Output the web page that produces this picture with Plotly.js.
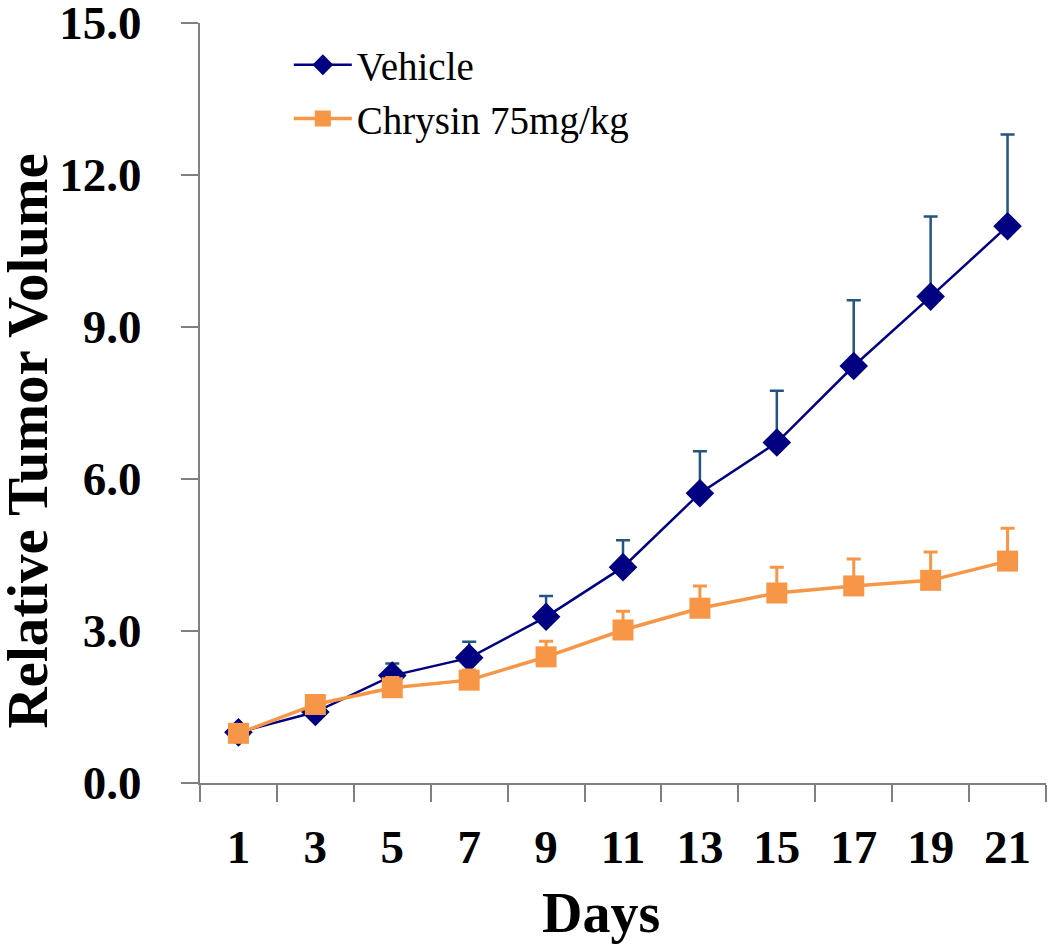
<!DOCTYPE html>
<html>
<head>
<meta charset="utf-8">
<script src="https://cdn.plot.ly/plotly-3.0.1.min.js"></script>
<style>html,body{margin:0;padding:0;background:#fff;}#chart{width:1050px;height:946px;}</style>
</head>
<body>
<div id="chart"></div>
<script>
const days = ['1','3','5','7','9','11','13','15','17','19','21'];
const vehicle = [1.00, 1.40, 2.12, 2.47, 3.28, 4.26, 5.72, 6.72, 8.23, 9.60, 10.99];
const vehicleErr = [0.15, 0.10, 0.24, 0.32, 0.41, 0.53, 0.83, 1.02, 1.30, 1.58, 1.81];
const chrysin = [0.98, 1.55, 1.88, 2.03, 2.49, 3.02, 3.45, 3.75, 3.89, 4.00, 4.38];
const chrysinErr = [0.10, 0.15, 0.20, 0.20, 0.31, 0.37, 0.44, 0.51, 0.53, 0.56, 0.65];
const yTicks = [0, 3, 6, 9, 12, 15];

const serif = 'Liberation Serif, Times New Roman, serif';
const zeros = days.map(() => 0);

const traces = [
  {
    x: days, y: vehicle, name: 'Vehicle', type: 'scatter', mode: 'lines+markers',
    line: {color: '#000080', width: 2.5},
    marker: {symbol: 'diamond', size: 22, color: '#000080'},
    error_y: {type: 'data', symmetric: false, array: vehicleErr, arrayminus: zeros,
      color: '#24557f', thickness: 2.5, width: 7}
  },
  {
    x: days, y: chrysin, name: 'Chrysin 75mg/kg', type: 'scatter', mode: 'lines+markers',
    line: {color: '#F79646', width: 3.5},
    marker: {symbol: 'square', size: 21, color: '#F79646'},
    error_y: {type: 'data', symmetric: false, array: chrysinErr, arrayminus: zeros,
      color: '#F79646', thickness: 3, width: 7}
  }
];

const layout = {
  width: 1050, height: 946,
  margin: {l: 200, r: 4, t: 23, b: 163},
  paper_bgcolor: '#fff', plot_bgcolor: '#fff',
  showlegend: true,
  legend: {
    x: 0.105, y: 0.987, xanchor: 'left', yanchor: 'top',
    bgcolor: 'rgba(0,0,0,0)', itemwidth: 58, tracegroupgap: 0,
    font: {family: serif, size: 39, color: '#000'}
  },
  xaxis: {
    type: 'category', range: [-0.5, 10.5], tickson: 'boundaries',
    showline: true, linecolor: '#808080', linewidth: 2,
    ticks: 'outside', ticklen: 17, tickwidth: 2, tickcolor: '#808080',
    showgrid: false, zeroline: false,
    ticklabelstandoff: 22,
    tickfont: {family: serif, size: 47, color: '#000', weight: 'bold'}
  },
  yaxis: {
    range: [0, 15.0005], tickvals: yTicks, tickformat: '.1f',
    ticklabeloverflow: 'allow',
    showline: true, linecolor: '#808080', linewidth: 2,
    ticks: 'outside', ticklen: 17, tickwidth: 2, tickcolor: '#808080',
    showgrid: false, zeroline: false,
    ticklabelstandoff: 30,
    tickfont: {family: serif, size: 47, color: '#000', weight: 'bold'}
  },
  annotations: [
    {text: 'Relative Tumor Volume', xref: 'paper', yref: 'paper',
     x: -0.205, y: 0.45, xanchor: 'center', yanchor: 'middle', textangle: -90,
     showarrow: false, font: {family: serif, size: 57, color: '#000', weight: 'bold'}},
    {text: 'Days', xref: 'paper', yref: 'paper',
     x: 0.474, y: -0.171, xanchor: 'center', yanchor: 'middle',
     showarrow: false, font: {family: serif, size: 56, color: '#000', weight: 'bold'}}
  ]
};

Plotly.newPlot('chart', traces, layout, {displayModeBar: false, staticPlot: true});
</script>
</body>
</html>
